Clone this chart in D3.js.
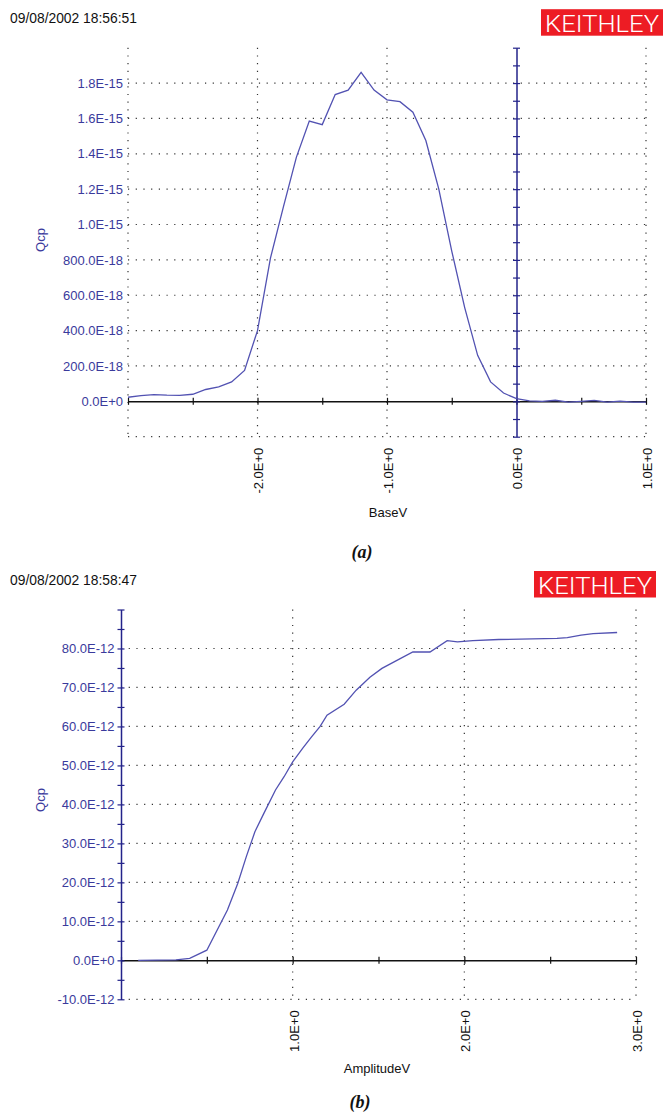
<!DOCTYPE html>
<html>
<head>
	<script src="https://d3js.org/d3.v7.min.js"></script>
	<style type="text/css">
		body { margin: 0; background: #fff; }
		text { font-family: "Liberation Sans", Arial, sans-serif; }
		.grid { stroke: #333; stroke-width: 1.2; stroke-dasharray: 1.2,6.5; }
	</style>
</head>
<body>
	<script type="text/javascript">
		// panel (a): charge pumping current vs base voltage
		var baseV = [-3.0, -2.9, -2.8, -2.7, -2.6, -2.5, -2.4, -2.3, -2.2, -2.1, -2.0,
			-1.9, -1.8, -1.7, -1.6, -1.5, -1.4, -1.3, -1.2, -1.1, -1.0,
			-0.9, -0.8, -0.7, -0.6, -0.5, -0.4, -0.3, -0.2, -0.1, 0.0,
			0.1, 0.2, 0.3, 0.4, 0.5, 0.6, 0.7, 0.8, 0.9, 1.0];
		var qcpA = [0.023, 0.032, 0.038, 0.035, 0.034, 0.040, 0.067, 0.082, 0.110, 0.175, 0.40,
			0.81, 1.10, 1.38, 1.585, 1.565, 1.735, 1.760, 1.860, 1.760, 1.705,
			1.695, 1.635, 1.475, 1.20, 0.85, 0.53, 0.26, 0.11, 0.047, 0.015,
			0.003, 0.0, 0.006, -0.004, 0.0, 0.005, -0.005, 0.001, -0.005, -0.004];   // x 1E-15
		var yTicksA = [0, 0.2, 0.4, 0.6, 0.8, 1.0, 1.2, 1.4, 1.6, 1.8];          // x 1E-15
		var yLabelsA = ['0.0E+0', '200.0E-18', '400.0E-18', '600.0E-18', '800.0E-18',
			'1.0E-15', '1.2E-15', '1.4E-15', '1.6E-15', '1.8E-15'];
		var xTicksA = [-2, -1, 0, 1];
		var xLabelsA = ['-2.0E+0', '-1.0E+0', '0.0E+0', '1.0E+0'];

		// panel (b): charge vs pulse amplitude
		var ampV = [0.10, 0.32, 0.40, 0.50, 0.62, 0.68, 0.73, 0.78, 0.83, 0.90, 0.95, 1.00,
			1.06, 1.11, 1.16, 1.20, 1.30, 1.37, 1.45, 1.52, 1.61, 1.70, 1.80, 1.90,
			1.96, 2.05, 2.20, 2.54, 2.60, 2.68, 2.75, 2.89];
		var qcpB = [0, 0.1, 0.5, 2.6, 12.9, 19.7, 26.6, 33.0, 37.5, 43.7, 47.1, 50.9,
			54.5, 57.3, 60.0, 62.9, 65.7, 69.3, 72.6, 74.9, 77.0, 79.1, 79.1, 82.0,
			81.7, 82.0, 82.3, 82.6, 82.8, 83.4, 83.8, 84.1];                   // x 1E-12
		var yTicksB = [-10, 0, 10, 20, 30, 40, 50, 60, 70, 80];                // x 1E-12
		var yLabelsB = ['-10.0E-12', '0.0E+0', '10.0E-12', '20.0E-12', '30.0E-12', '40.0E-12',
			'50.0E-12', '60.0E-12', '70.0E-12', '80.0E-12'];
		var xTicksB = [1, 2, 3];
		var xLabelsB = ['1.0E+0', '2.0E+0', '3.0E+0'];

		var blue = '#3a3a9c',
			axisBlue = '#23238a',
			lineBlue = '#5252b2';

		var svg = d3.select('body')
			.append('svg')
				.attr('width', 664)
				.attr('height', 1116);

		function drawPanel(p) {
			var g = svg.append('g');

			var x = d3.scaleLinear().domain(p.xDomain).range(p.xRange),
				y = d3.scaleLinear().domain(p.yDomain).range(p.yRange);

			/** Header **/
			g.append('text')
				.attr('x', 10)
				.attr('y', p.top - 25)
				.attr('font-size', 15)
				.attr('textLength', 127)
				.attr('lengthAdjust', 'spacingAndGlyphs')
				.attr('fill', '#111')
				.text(p.stamp);

			g.append('rect')
				.attr('x', p.logoX)
				.attr('y', p.top - 38.5)
				.attr('width', 122)
				.attr('height', 26.5)
				.attr('fill', '#ed1c24');
			g.append('text')
				.attr('x', p.logoX + 4)
				.attr('y', p.top - 15.5)
				.style('font-family', 'Roboto, "Open Sans", "Liberation Sans", sans-serif')
				.style('font-weight', 300)
				.attr('font-size', 24)
				.attr('textLength', 114)
				.attr('lengthAdjust', 'spacingAndGlyphs')
				.attr('fill', '#fff')
				.text('KEITHLEY');

			/** Dotted grid **/
			g.selectAll('.vgrid')
				.data(p.vGrid).enter()
				.append('line')
					.attr('class', 'grid')
					.attr('x1', function(d) { return x(d); })
					.attr('x2', function(d) { return x(d); })
					.attr('y1', p.yRange[1])
					.attr('y2', p.yRange[0]);

			g.selectAll('.hgrid')
				.data(p.hGrid).enter()
				.append('line')
					.attr('class', 'grid')
					.attr('x1', p.xRange[0])
					.attr('x2', p.xRange[1])
					.attr('y1', function(d) { return y(d); })
					.attr('y2', function(d) { return y(d); });

			/** Y tick labels on the left edge **/
			var yLab = g.append('g')
				.attr('transform', 'translate(' + p.xRange[0] + ',0)')
				.call(d3.axisLeft(y)
					.tickValues(p.yTicks)
					.tickFormat(function(d, i) { return p.yLabels[i]; })
					.tickSize(0)
					.tickPadding(p.yPad));
			yLab.select('.domain').remove();
			yLab.selectAll('text')
				.attr('font-size', 13)
				.attr('fill', blue);

			/** X tick labels, rotated **/
			var xLab = g.append('g')
				.attr('transform', 'translate(0,' + p.yRange[0] + ')')
				.call(d3.axisBottom(x)
					.tickValues(p.xTicks)
					.tickFormat(function(d, i) { return p.xLabels[i]; })
					.tickSize(0));
			xLab.select('.domain').remove();
			xLab.selectAll('text')
				.attr('transform', 'rotate(-90)')
				.attr('x', -11)
				.attr('y', 0)
				.attr('dy', '0.42em')
				.attr('text-anchor', 'end')
				.attr('font-size', 13)
				.attr('fill', '#111');

			/** Black x axis through zero **/
			var xAx = g.append('g')
				.attr('transform', 'translate(0,' + y(0) + ')')
				.call(d3.axisBottom(x)
					.tickValues(p.xMinor)
					.tickFormat('')
					.tickSizeOuter(0));
			xAx.select('.domain').attr('stroke', '#111').attr('stroke-width', 1.5);
			xAx.selectAll('.tick line')
				.attr('y1', -3.5)
				.attr('y2', 3.5)
				.attr('stroke', '#111')
				.attr('stroke-width', 1.2);

			/** Blue y axis through zero **/
			var yAx = g.append('g')
				.attr('transform', 'translate(' + x(0) + ',0)')
				.call(d3.axisLeft(y)
					.tickValues(p.yMinor)
					.tickFormat('')
					.tickSizeOuter(0));
			yAx.select('.domain').attr('stroke', axisBlue).attr('stroke-width', 1.5);
			yAx.selectAll('.tick line')
				.attr('x1', -3.5)
				.attr('x2', 3.5)
				.attr('stroke', axisBlue)
				.attr('stroke-width', 1.2);

			/** Curve **/
			var pts = p.xs.map(function(d, i) { return [d, p.ys[i]]; });
			g.append('path')
				.datum(pts)
				.attr('fill', 'none')
				.attr('stroke', lineBlue)
				.attr('stroke-width', 1.3)
				.attr('d', d3.line()
					.x(function(d) { return x(d[0]); })
					.y(function(d) { return y(d[1]); }));

			/** Titles **/
			g.append('text')
				.attr('transform', 'translate(45,' + p.qcpY + ') rotate(-90)')
				.attr('text-anchor', 'middle')
				.attr('font-size', 13)
				.attr('fill', blue)
				.text('Qcp');

			g.append('text')
				.attr('x', p.titleX)
				.attr('y', p.titleY)
				.attr('text-anchor', 'middle')
				.attr('font-size', 13)
				.attr('fill', '#111')
				.text(p.xTitle);

			g.append('text')
				.attr('x', p.capX)
				.attr('y', p.capY)
				.attr('text-anchor', 'middle')
				.style('font-family', '"Liberation Serif", "Times New Roman", serif')
				.style('font-weight', 'bold')
				.style('font-style', 'italic')
				.attr('font-size', 18)
				.attr('fill', '#111')
				.text(p.caption);
		}

		drawPanel({
			stamp: '09/08/2002 18:56:51', logoX: 541, top: 47.7,
			xDomain: [-3, 1], xRange: [128, 646],
			yDomain: [-0.2, 2.0], yRange: [436.7, 47.7],
			xs: baseV, ys: qcpA,
			yTicks: yTicksA, yLabels: yLabelsA, yPad: 5,
			xTicks: xTicksA, xLabels: xLabelsA,
			vGrid: [-3, -2, -1, 1],
			hGrid: [-0.2, 0.2, 0.4, 0.6, 0.8, 1.0, 1.2, 1.4, 1.6, 1.8],
			xMinor: d3.range(-3, 1.01, 0.5),
			yMinor: d3.range(-2, 20.5, 1).map(function(d) { return d / 10; }),
			qcpY: 240, xTitle: 'BaseV', titleX: 388, titleY: 517,
			caption: '(a)', capX: 362, capY: 558
		});

		drawPanel({
			stamp: '09/08/2002 18:58:47', logoX: 534, top: 609.5,
			xDomain: [0, 3], xRange: [121, 636],
			yDomain: [-10, 90], yRange: [999.3, 609.5],
			xs: ampV, ys: qcpB,
			yTicks: yTicksB, yLabels: yLabelsB, yPad: 6.5,
			xTicks: xTicksB, xLabels: xLabelsB,
			vGrid: [1, 2, 3],
			hGrid: [-10, 10, 20, 30, 40, 50, 60, 70, 80],
			xMinor: d3.range(0, 3.01, 0.5),
			yMinor: d3.range(-10, 90.5, 5),
			qcpY: 800, xTitle: 'AmplitudeV', titleX: 377, titleY: 1073,
			caption: '(b)', capX: 360, capY: 1108
		});
	</script>
</body>
</html>
